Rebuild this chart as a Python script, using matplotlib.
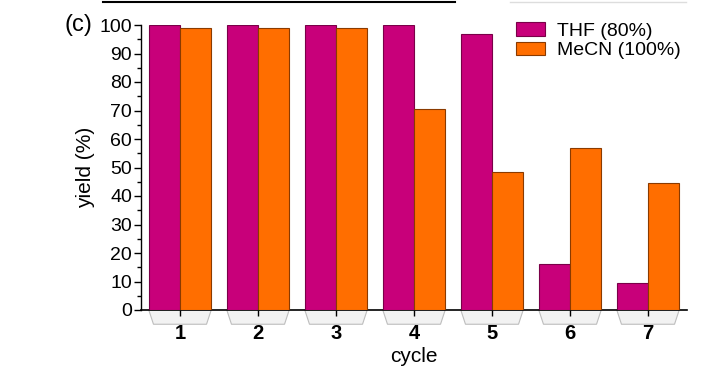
import matplotlib
matplotlib.use("Agg")
import matplotlib.pyplot as plt
import numpy as np
from matplotlib.patches import Polygon
from matplotlib.lines import Line2D

cycles = ["1", "2", "3", "4", "5", "6", "7"]
thf = [100, 100, 100, 100, 96.8, 16, 9.5]
mecn = [99, 99, 99, 70.5, 48.5, 57, 44.5]
series_labels = ["THF (80%)", "MeCN (100%)"]

plt.rcParams['font.family'] = ['Liberation Sans', 'DejaVu Sans']

fig = plt.figure(figsize=(7.24, 3.77), dpi=100)
ax = fig.add_axes([141/724, 1-310/377, 546/724, 285/377])

x = np.arange(1, len(cycles)+1)
w = 0.4
ax.bar(x - w/2, thf, w, color="#C8007A", edgecolor="#7a0048", linewidth=0.8, label=series_labels[0], zorder=3)
ax.bar(x + w/2, mecn, w, color="#FF6E00", edgecolor="#8a3a00", linewidth=0.8, label=series_labels[1], zorder=3)

# base shadow under each group
trans = ax.get_xaxis_transform()
for xi in x:
    poly = Polygon([(xi-0.4, 0), (xi-0.34, -0.05), (xi+0.34, -0.05), (xi+0.4, 0)],
                   closed=True, transform=trans, facecolor="#f2f2f2", edgecolor="#bdbdbd",
                   linewidth=0.8, clip_on=False, zorder=1)
    ax.add_patch(poly)

ax.set_xlim(0.5, 7.5)
ax.set_ylim(0, 100)
ax.set_xticks(x)
ax.set_xticklabels(cycles, fontweight="bold", fontsize=14.5)
ax.set_yticks(np.arange(0, 101, 10))
ax.set_yticks(np.arange(5, 100, 10), minor=True)
ax.tick_params(axis="y", labelsize=14, length=5, width=1, direction="out", pad=1.5)
ax.tick_params(axis="y", which="minor", length=3, width=1)
ax.tick_params(axis="x", length=4, width=1, pad=6)
for s in ["top", "right"]:
    ax.spines[s].set_visible(False)
ax.spines["left"].set_linewidth(1)
ax.spines["bottom"].set_linewidth(1.2)
ax.set_xlabel("cycle", fontsize=15, labelpad=3)
ax.set_ylabel("yield (%)", fontsize=15, labelpad=3)

leg = fig.legend(loc="upper left", bbox_to_anchor=(516/724, 1-22/377), frameon=False, fontsize=14,
                 handlelength=1.5, handleheight=0.7, handletextpad=0.6, labelspacing=0.1,
                 borderpad=0, borderaxespad=0)

fig.text(65/724, 1-25/377, "(c)", fontsize=17, va="center", ha="left")
fig.add_artist(Line2D([103/724, 455/724], [1-1.5/377, 1-1.5/377], color="black", linewidth=1.5))
fig.add_artist(Line2D([510/724, 686/724], [1-1.5/377, 1-1.5/377], color="#dddddd", linewidth=1))

fig.savefig("out.png", dpi=100)
